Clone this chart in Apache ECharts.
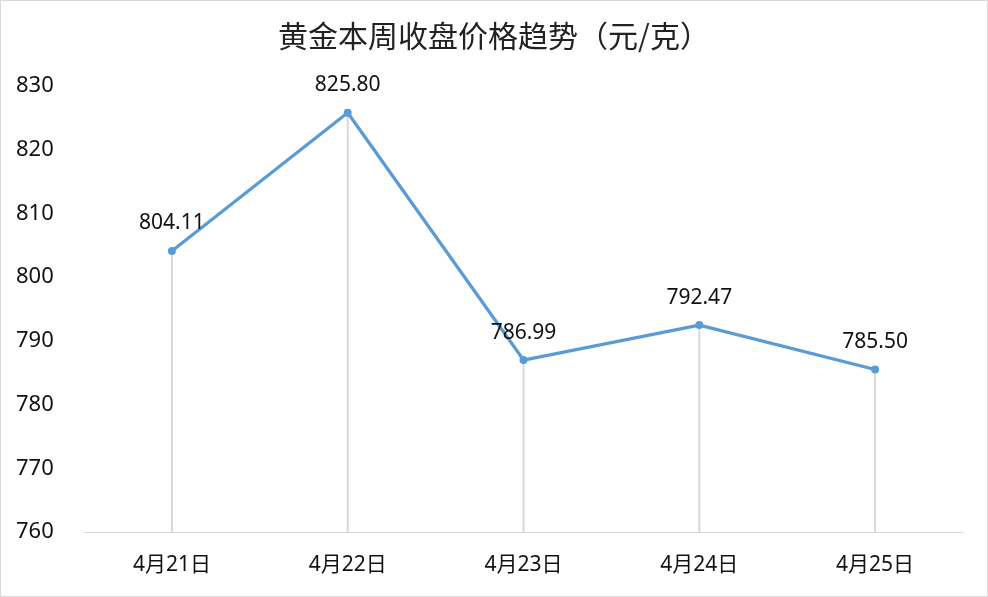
<!DOCTYPE html>
<html><head><meta charset="utf-8">
<script src="https://cdn.jsdelivr.net/npm/echarts@6/dist/echarts.min.js"></script>
<style>
html,body{margin:0;padding:0;background:#fff;}
#c{width:988px;height:597px;box-sizing:border-box;border:1px solid #d9d9d9;}
</style></head>
<body><div id="c"></div>
<script>
const categories = ['4月21日','4月22日','4月23日','4月24日','4月25日'];
const prices = [804.11, 825.80, 786.99, 792.47, 785.50];
const yTicks = {min: 760, max: 830, interval: 10};
const titleText = '黄金本周收盘价格趋势（元/克）';

const chart = echarts.init(document.getElementById('c'), null, {renderer:'canvas'});
const font = '"Noto Sans", "Noto Sans CJK SC", sans-serif';
const cjk = '"Noto Sans CJK SC", "Noto Sans", sans-serif';
chart.setOption({
  animation: false,
  title: {text: titleText, left: 'center', top: 15,
    textStyle: {fontFamily: cjk, fontSize: 30, fontWeight: 'normal', color: '#222'}},
  grid: {left: 83, right: 24, top: 85, bottom: 64, containLabel: false},
  xAxis: {type: 'category', data: categories, boundaryGap: true,
    axisLine: {lineStyle: {color: '#d9d9d9', width: 1}},
    axisTick: {show: false},
    axisLabel: {fontFamily: font, fontSize: 21, color: '#111', margin: 23}},
  yAxis: {type: 'value', min: yTicks.min, max: yTicks.max, interval: yTicks.interval,
    splitLine: {show: false}, axisLine: {show: false}, axisTick: {show: false},
    axisLabel: {fontFamily: font, fontSize: 22, color: '#111', align: 'left', margin: 68}},
  series: [
    {type: 'bar', data: prices, barWidth: 2, silent: true, z: 1,
     itemStyle: {color: '#d9d9d9'}},
    {type: 'line', data: prices, z: 3, symbol: 'circle', symbolSize: 8,
     lineStyle: {color: '#5B9BD5', width: 3.25}, itemStyle: {color: '#5B9BD5'},
     label: {show: true, position: 'top', distance: 13, fontFamily: font, fontSize: 21, color: '#111',
       formatter: p => p.value.toFixed(2)}}
  ]
});
</script></body></html>
